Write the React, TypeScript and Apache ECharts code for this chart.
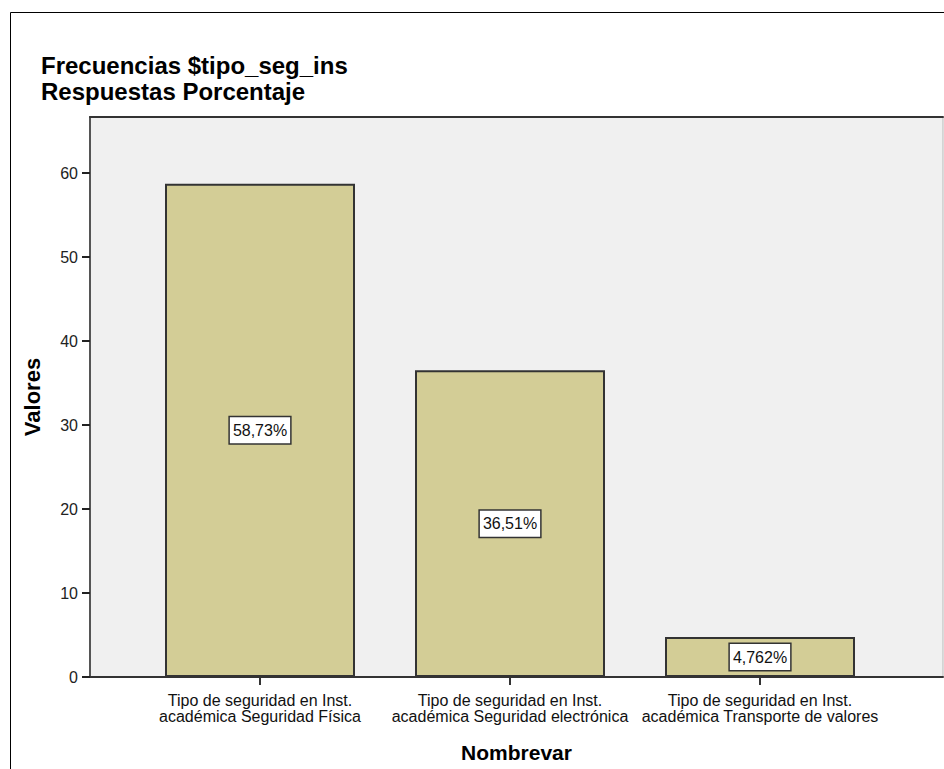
import React, { useEffect, useRef } from "react";
import * as echarts from "echarts";

// Multiple-response frequencies for $tipo_seg_ins (percent of responses)
const categories = [
  "Tipo de seguridad en Inst.\nacadémica Seguridad Física",
  "Tipo de seguridad en Inst.\nacadémica Seguridad electrónica",
  "Tipo de seguridad en Inst.\nacadémica Transporte de valores",
];
const percentages = [58.73, 36.51, 4.762];
const percentLabels = ["58,73%", "36,51%", "4,762%"];
const yTicks = [0, 10, 20, 30, 40, 50, 60];

const FONT = "'Liberation Sans', Arial, Helvetica, sans-serif";

export default function App() {
  const ref = useRef<HTMLDivElement>(null);

  useEffect(() => {
    if (!ref.current) return;
    const chart = echarts.init(ref.current, null, { renderer: "svg" });

    const catIdx = categories.map((_, i) => i);

    chart.setOption({
      animation: false,
      backgroundColor: "#ffffff",
      textStyle: { fontFamily: FONT },
      title: {
        text: "Frecuencias $tipo_seg_ins\nRespuestas Porcentaje",
        left: 36,
        top: 47,
        textStyle: {
          fontFamily: FONT,
          fontSize: 24,
          fontWeight: "bold",
          color: "#000",
          lineHeight: 26,
        },
      },
      graphic: [
        {
          type: "rect",
          shape: { x: 10.5, y: 12.5, width: 1000, height: 800 },
          style: { fill: "none", stroke: "#000", lineWidth: 1 },
          silent: true,
          z: -1,
        },
      ],
      grid: {
        left: 90,
        top: 117,
        right: 1,
        bottom: 92,
        show: true,
        backgroundColor: "#f0f0f0",
        borderColor: "#b8b8b8",
        borderWidth: 1,
        containLabel: false,
      },
      xAxis: [
        {
          type: "value",
          min: -0.68,
          max: 2.732,
          name: "Nombrevar",
          nameLocation: "middle",
          nameGap: 65,
          nameTextStyle: {
            fontFamily: FONT,
            fontSize: 21,
            fontWeight: "bold",
            color: "#000",
          },
          splitLine: { show: false },
          axisLine: { show: true, onZero: false, lineStyle: { color: "#333", width: 2 } },
          axisTick: {
            show: true,
            length: 8,
            customValues: catIdx,
            lineStyle: { color: "#333", width: 2 },
          },
          axisLabel: {
            customValues: catIdx,
            formatter: (v: number) => categories[Math.round(v)] ?? "",
            fontFamily: FONT,
            fontSize: 16,
            lineHeight: 16,
            color: "#111",
            margin: 15,
          },
        },
        {
          type: "value",
          position: "top",
          min: -0.68,
          max: 2.732,
          splitLine: { show: false },
          axisLine: { show: true, onZero: false, lineStyle: { color: "#333", width: 2 } },
          axisTick: { show: false },
          axisLabel: { show: false },
        },
      ],
      yAxis: {
        type: "value",
        min: 0,
        max: 66.67,
        name: "Valores",
        nameLocation: "middle",
        nameGap: 47,
        nameRotate: 90,
        nameTextStyle: {
          fontFamily: FONT,
          fontSize: 22,
          fontWeight: "bold",
          color: "#000",
        },
        splitLine: { show: false },
        axisLine: { show: true, onZero: false, lineStyle: { color: "#555", width: 2 } },
        axisTick: {
          show: true,
          length: 8,
          customValues: yTicks,
          lineStyle: { color: "#222", width: 2 },
        },
        axisLabel: {
          customValues: yTicks,
          fontFamily: FONT,
          fontSize: 16,
          color: "#222",
          margin: 12,
        },
      },
      series: [
        {
          type: "bar",
          xAxisIndex: 0,
          barWidth: 190,
          data: percentages.map((v, i) => [i, v]),
          itemStyle: {
            color: "#d3cd96",
            borderColor: "#333",
            borderWidth: 2,
          },
          label: {
            show: true,
            position: "inside",
            formatter: (p: any) => percentLabels[p.dataIndex],
            fontFamily: FONT,
            fontSize: 16,
            color: "#111",
            backgroundColor: "#ffffff",
            borderColor: "#333",
            borderWidth: 1.5,
            padding: [6, 3, 4, 3],
          },
        },
      ],
    });

    return () => chart.dispose();
  }, []);

  return (
    <div
      ref={ref}
      style={{ position: "fixed", left: 0, top: 0, width: 944, height: 769 }}
    />
  );
}
